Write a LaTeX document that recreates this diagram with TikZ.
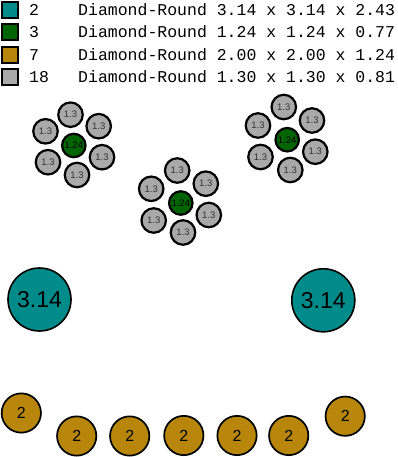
\documentclass[tikz,border=0pt]{standalone}
\usepackage{fontspec}
\newfontfamily\legendfont{Liberation Mono}
\newfontfamily\ballfont{Liberation Sans}
\usetikzlibrary{positioning}
\definecolor{tealball}{HTML}{008B8B}
\definecolor{greenball}{HTML}{006400}
\definecolor{goldball}{HTML}{B8860B}
\definecolor{grayball}{HTML}{A9A9A9}

\begin{document}
\begin{tikzpicture}[x=1pt, y=-1pt,
        key/.style={rectangle, draw=black, line width=2pt, minimum size=16pt, inner sep=0pt},
        legtext/.style={anchor=west, inner sep=0pt, font=\legendfont\fontsize{16.5}{18}\selectfont},
        small/.style={circle, draw=black, line width=2.2pt, fill=grayball, minimum size=24.5pt, inner sep=0pt, font=\ballfont\fontsize{9.5}{10}\selectfont, text=black!80},
        core/.style={circle, draw=black, line width=2.2pt, fill=greenball, minimum size=23.5pt, inner sep=0pt, font=\ballfont\fontsize{9.5}{10}\selectfont},
        big/.style={circle, draw=black, line width=1.6pt, fill=tealball, minimum size=63pt, inner sep=0pt, font=\ballfont\fontsize{23}{24}\selectfont},
        mid/.style={circle, draw=black, line width=1.7pt, fill=goldball, minimum size=39.3pt, inner sep=0pt, font=\ballfont\fontsize{16}{17}\selectfont},
        ]
            \useasboundingbox (0,0) rectangle (397,457);

            % legend
            \node[key, fill=tealball]  (K1) at (9.5,10) {};
            \node[key, fill=greenball] (K2) at (9.5,32) {};
            \node[key, fill=goldball]  (K3) at (9.5,55) {};
            \node[key, fill=grayball]  (K4) at (9.5,77) {};
            \node[legtext] (N1) at (29,10) {2};
            \node[legtext] (N2) at (29,32) {3};
            \node[legtext] (N3) at (29,55) {7};
            \node[legtext] (N4) at (29,77) {18};
            \node[legtext] (D1) at (78,10) {Diamond-Round 3.14 x 3.14 x 2.43};
            \node[legtext] (D2) at (78,32) {Diamond-Round 1.24 x 1.24 x 0.77};
            \node[legtext] (D3) at (78,55) {Diamond-Round 2.00 x 2.00 x 1.24};
            \node[legtext] (D4) at (78,77) {Diamond-Round 1.30 x 1.30 x 0.81};

            % left cluster
            \node[core]  (C1)  at (73.8,145.5) {1.24};
            \node[small] (C1a) at (70.5,114.7) {1.3};
            \node[small] (C1b) at (45.5,131.3) {1.3};
            \node[small] (C1c) at (98.7,126.2) {1.3};
            \node[small] (C1d) at (102,157.2) {1.3};
            \node[small] (C1e) at (48,162.2) {1.3};
            \node[small] (C1f) at (77,175) {1.3};

            % middle cluster
            \node[core]  (C2)  at (180.8,203) {1.24};
            \node[small] (C2a) at (177.2,170.5) {1.3};
            \node[small] (C2b) at (151.2,188.8) {1.3};
            \node[small] (C2c) at (205.8,183.7) {1.3};
            \node[small] (C2d) at (208.8,215) {1.3};
            \node[small] (C2e) at (153.7,220.5) {1.3};
            \node[small] (C2f) at (183,232.5) {1.3};

            % right cluster
            \node[core]  (C3)  at (287.2,139.7) {1.24};
            \node[small] (C3a) at (283.8,107) {1.3};
            \node[small] (C3b) at (258,125.5) {1.3};
            \node[small] (C3c) at (312,120.5) {1.3};
            \node[small] (C3d) at (315.3,151.7) {1.3};
            \node[small] (C3e) at (260.5,157) {1.3};
            \node[small] (C3f) at (290.3,170) {1.3};

            % big ones
            \node[big] (B1) at (39.5,299.5) {3.14};
            \node[big] (B2) at (323.3,300.3) {3.14};

            % bottom row
            \node[mid] (M1) at (21.3,413) {2};
            \node[mid] (M2) at (76.7,436) {2};
            \node[mid] (M3) at (129.7,436) {2};
            \node[mid] (M4) at (183.8,435.5) {2};
            \node[mid] (M5) at (237,435.5) {2};
            \node[mid] (M6) at (288.7,435.5) {2};
            \node[mid] (M7) at (345.2,416.2) {2};
        \end{tikzpicture}
\end{document}
